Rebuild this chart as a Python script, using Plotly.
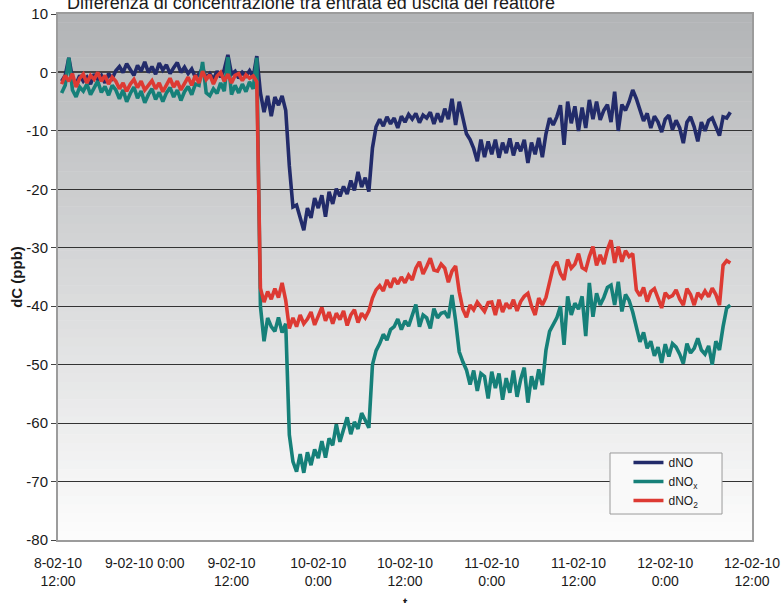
import pandas as pd
import plotly.graph_objects as go

# ---- data ----
START = "2010-02-08 12:30"   # first sample, one every 30 minutes
N_SAMPLES = 186

dNO = [
    # 0.5h .. 27.5h (before the step)
    -1.5, -0.5, 2.5, -1.0, -2.0, -0.5, -1.5, -0.8, -2.0, -0.3, -1.2, -0.5,
    -1.8, -0.2, -1.0, 0.3, 1.0, 0.0, 1.5, 0.5, -0.5, 1.2, 0.2, 1.8,
    0.0, 1.0, -0.3, 1.6, 0.4, 1.3, -0.2, 0.8, 1.7, 0.0, 0.9, -0.2,
    0.6, -0.8, -0.3, 0.8, -1.0, -0.2, -1.2, 0.2, -0.8, 0.5, 3.0, -0.3,
    0.2, -1.0, 0.0, -0.6, 0.3, -0.8, 2.8,
    # 28.0h .. 93.0h
    -3.5, -6.8, -4.0, -7.5, -4.2, -5.6, -4.0, -6.5, -16.0, -23.0, -22.7, -25.0,
    -27.0, -23.2, -24.9, -21.5, -23.2, -21.0, -24.7, -20.4, -22.5, -19.9, -21.2, -19.5,
    -20.8, -18.5, -20.2, -17.0, -19.6, -18.0, -20.4, -12.9, -9.3, -8.0, -9.2, -7.6,
    -8.8, -7.8, -9.5, -7.5, -8.5, -7.2, -8.0, -7.0, -8.6, -7.3, -7.8, -6.8,
    -8.8, -7.0, -8.5, -6.2, -8.0, -4.5, -9.0, -5.0, -8.0, -10.5, -11.5, -13.0,
    -15.2, -11.5, -14.5, -11.8, -14.0, -11.5, -14.6, -12.0, -13.8, -11.3, -14.2, -12.0,
    -13.5, -11.5, -15.5, -12.0, -14.0, -11.2, -14.5, -10.5, -7.8, -9.0, -7.6, -5.6,
    -12.4, -5.0, -8.7, -5.8, -10.0, -6.0, -9.5, -4.7, -8.0, -5.0, -8.1, -6.5,
    -5.5, -8.5, -3.3, -10.0, -5.5, -6.5, -5.0, -3.0, -4.5, -6.5, -8.3, -7.0,
    -9.5, -7.5, -8.5, -10.2, -8.0, -7.3, -9.8, -8.2, -9.5, -12.1, -8.5, -7.6,
    -9.3, -11.8, -8.5, -10.0, -8.2, -7.8, -9.4, -10.8, -7.6, -7.8, -6.8,
]

dNOx = [
    -3.5, -2.2, 2.5, -3.0, -4.2, -2.5, -3.2, -2.0, -3.8, -2.6, -1.5, -3.4,
    -2.4, -3.9, -2.2, -3.0, -4.5, -3.0, -5.0, -3.6, -2.5, -4.4, -3.2, -5.2,
    -3.8, -2.8, -4.6, -3.4, -5.0, -3.5, -2.6, -4.2, -3.0, -4.8, -3.3, -2.4,
    -3.8, -2.0, -2.2, 1.8, -3.5, -4.0, -2.8, -3.6, -1.8, -3.2, 2.6, -3.8,
    -2.2, -3.5, -2.0, -3.3, -1.6, -2.8, 2.5,
    -40.0, -46.0, -42.0, -43.5, -44.3, -41.9, -44.5, -43.0, -62.0, -66.6, -68.3, -65.3,
    -68.5, -65.0, -67.2, -64.5, -66.0, -63.1, -65.9, -62.6, -63.8, -60.2, -63.2, -61.0,
    -59.0, -61.9, -59.8, -61.0, -58.3, -59.5, -60.8, -50.0, -47.6, -46.4, -44.8, -45.8,
    -44.0, -43.5, -42.2, -44.0, -42.5, -43.4, -41.5, -39.7, -43.5, -41.5, -42.0, -43.8,
    -40.4, -42.0, -41.2, -41.0, -42.0, -38.1, -42.5, -47.8, -49.5, -50.9, -53.4, -51.0,
    -54.5, -51.5, -52.0, -55.8, -51.2, -54.0, -51.5, -56.0, -52.3, -54.8, -51.0, -55.5,
    -52.5, -50.5, -56.5, -52.0, -54.2, -50.8, -53.5, -47.5, -44.3, -43.0, -42.0, -40.0,
    -46.6, -38.3, -41.5, -39.5, -40.5, -38.3, -45.1, -36.0, -41.8, -37.8, -39.8, -38.5,
    -36.8, -36.4, -39.8, -35.8, -40.9, -38.0, -39.0, -41.0, -43.8, -46.1, -44.5, -47.2,
    -46.0, -48.5, -47.0, -49.7, -46.5, -48.6, -46.4, -47.0, -48.2, -49.8, -46.4, -48.0,
    -47.2, -45.5, -47.5, -48.2, -46.8, -50.0, -46.0, -47.5, -43.5, -40.3, -39.8,
]

dNO2 = [
    -2.0, -0.5, -1.5, -0.2, -2.5, -1.0, -0.3, -1.8, -0.5, -1.2, 0.0, -1.5,
    -0.5, -2.0, -0.8, -1.5, -2.8, -1.8, -3.2, -2.0, -1.2, -2.6, -1.5, -3.0,
    -2.2, -1.4, -2.8, -1.8, -3.3, -2.0, -1.0, -2.5, -1.5, -3.0, -1.8, -0.8,
    -2.2, -0.5, -1.8, 0.2, -1.2, -0.4, -2.0, -0.6, 0.0, -1.5, -0.3, -1.8,
    -0.5, -0.2, -1.4, -0.4, -1.0, -0.6, -1.6,
    -36.9, -39.3, -37.5, -38.8, -37.0, -38.5, -36.0, -39.0, -43.8, -42.0, -43.5, -41.5,
    -43.0, -42.2, -41.0, -43.2, -41.8, -40.2, -42.5, -41.0, -43.0, -41.2, -42.3, -40.8,
    -43.3, -41.5, -40.6, -42.8, -41.2, -42.0, -40.8, -38.6, -37.2, -36.5, -37.4, -35.5,
    -36.8, -35.2, -36.2, -35.0, -36.0, -34.7, -35.5, -33.5, -32.4, -34.5, -33.2, -31.8,
    -33.8, -34.0, -32.8, -33.5, -35.9, -34.0, -33.1, -37.5, -40.5, -41.9, -39.8, -40.6,
    -39.3, -40.2, -40.9, -39.4, -39.3, -41.5, -38.9, -41.0, -39.5, -40.4, -38.9, -40.8,
    -39.2, -38.3, -37.8, -40.0, -41.5, -38.6, -39.8, -38.5, -36.1, -33.3, -32.4, -34.4,
    -35.5, -32.0, -33.5, -32.8, -31.0, -33.4, -33.8, -31.5, -29.8, -33.0, -31.2, -32.8,
    -30.3, -28.7, -32.6, -29.8, -32.4, -30.5, -31.5, -31.0, -37.2, -38.2, -36.8, -39.2,
    -37.5, -37.0, -38.6, -40.3, -37.7, -38.5, -38.2, -37.2, -38.8, -39.8, -37.0, -38.0,
    -39.8, -37.7, -38.5, -37.4, -38.4, -36.9, -38.0, -39.8, -33.0, -32.2, -32.6,
]

TICK_VALS = ["2010-02-08 12:00", "2010-02-09 00:00", "2010-02-09 12:00",
             "2010-02-10 00:00", "2010-02-10 12:00", "2010-02-11 00:00",
             "2010-02-11 12:00", "2010-02-12 00:00", "2010-02-12 12:00"]
TICK_TEXT = ["8-02-10<br>12:00", "9-02-10 0:00", "9-02-10<br>12:00",
             "10-02-10<br>0:00", "10-02-10<br>12:00", "11-02-10<br>0:00",
             "11-02-10<br>12:00", "12-02-10<br>0:00", "12-02-10<br>12:00"]
Y_TICKS = [10, 0, -10, -20, -30, -40, -50, -60, -70, -80]
Y_TICK_TEXT = ["10", "0", "-10", "-20", "-30", "-40", "-50", "-60", "-70", "-80"]
X_RANGE = ["2010-02-08 12:00", "2010-02-12 12:00"]
Y_RANGE = [-80, 10]

SERIES = [("dNO", dNO, "#222B6A"),
          ("dNO<sub>x</sub>", dNOx, "#168079"),
          ("dNO<sub>2</sub>", dNO2, "#DD3A33")]

times = pd.date_range(START, periods=N_SAMPLES, freq="30min")

FONT = "Liberation Sans, Arial, sans-serif"

fig = go.Figure()
for name, vals, col in SERIES:
    fig.add_trace(go.Scatter(x=times, y=vals, mode="lines", name=name,
                             line=dict(color=col, width=3.6)))

# background gradient (grey at top -> white at bottom)
n_strips = 60
top = (178, 180, 182)
bot = (253, 253, 253)
for i in range(n_strips):
    t = (i + 0.5) / n_strips
    c = tuple(int(round(top[k] + (bot[k] - top[k]) * t)) for k in range(3))
    fig.add_shape(type="rect", xref="paper", yref="paper",
                  x0=0, x1=1, y0=1 - (i + 1) / n_strips, y1=1 - i / n_strips + 0.001,
                  fillcolor="rgb(%d,%d,%d)" % c, line=dict(width=0), layer="below")

# legend frame
fig.add_shape(type="rect", xref="paper", yref="paper",
              x0=0.7954, x1=0.9568, y0=0.0494, y1=0.1654,
              fillcolor="#f9f9f9", line=dict(color="#9a9a9a", width=1), layer="above")

fig.update_layout(
    width=784, height=603,
    margin=dict(l=58, r=32, t=14, b=63, autoexpand=False),
    paper_bgcolor="white",
    plot_bgcolor="rgba(0,0,0,0)",
    font=dict(family=FONT, size=14, color="#1a1a1a"),
    showlegend=True,
    legend=dict(x=0.822, y=0.175, xanchor="left", yanchor="top",
                bgcolor="rgba(0,0,0,0)", borderwidth=0,
                font=dict(size=12, family=FONT, color="#1a1a1a"), itemwidth=30,
                tracegroupgap=0),
    xaxis=dict(type="date", range=X_RANGE, tickvals=TICK_VALS, ticktext=TICK_TEXT,
               showgrid=False, showline=True, mirror=True, linecolor="#9c9c9c",
               linewidth=2, ticks="", tickfont=dict(size=14), zeroline=False,
               automargin=False, ticklabelstandoff=9),
    xaxis2=dict(type="date", range=X_RANGE, tickvals=TICK_VALS, overlaying="x",
                anchor="free", position=80 / 90, showticklabels=False,
                ticks="outside", ticklen=4, tickcolor="#333", showgrid=False,
                showline=False, zeroline=False, automargin=False),
    yaxis=dict(range=Y_RANGE, tickvals=Y_TICKS, ticktext=Y_TICK_TEXT,
               showgrid=True, gridcolor="#333333",
               gridwidth=1, showline=True, mirror=True, linecolor="#9c9c9c",
               linewidth=2, ticks="outside", ticklen=5, tickcolor="#444",
               tickfont=dict(size=15), zeroline=True, zerolinecolor="#444",
               zerolinewidth=1.5, automargin=False,
               title=dict(text="<b>dC (ppb)</b>", font=dict(size=15), standoff=0)),
)

fig.add_annotation(text="Differenza di concentrazione tra entrata ed uscita del reattore",
                   xref="paper", yref="paper", x=0.01, y=1, xanchor="left",
                   yanchor="bottom", yshift=-1, showarrow=False,
                   font=dict(size=18, family=FONT, color="#1a1a1a"))
fig.add_annotation(text="<b>t</b>", xref="paper", yref="paper", x=0.5, y=0,
                   xanchor="center", yanchor="top", yshift=-53, showarrow=False,
                   font=dict(size=13, family=FONT, color="#1a1a1a"))

# the page's default 8px body margin would shift the chart; remove it
fig.write_html("out.html", config={"displayModeBar": False},
               post_script="document.body.style.margin='0px';")
